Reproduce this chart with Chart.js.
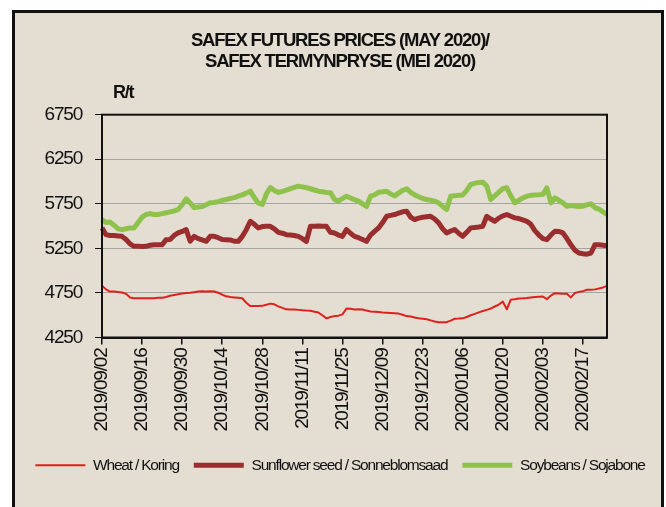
<!DOCTYPE html>
<html>
<head>
<meta charset="utf-8">
<script src="https://cdn.jsdelivr.net/npm/chart.js@4"></script>
<style>
  html, body { margin: 0; padding: 0; background: #fff; }
  #wrap { position: relative; width: 666px; height: 507px; overflow: hidden; }
  #frame { position: absolute; left: 12px; top: 10px; width: 652px; height: 530px;
           box-sizing: border-box; border: 3px solid #111; background: #e4ddd1; }
  #pc { position: absolute; left: 0; top: 0; }
</style>
</head>
<body>
<div id="wrap">
  <div id="frame"></div>
  <canvas id="pc" width="666" height="507"></canvas>
</div>
<script>
// SAFEX futures prices (May 2020 contract), R/t, daily trading days Sep 2019 - Feb 2020

const START_DATE = '2019-09-02';
const N_DAYS = 127;

const X_TICK_LABELS = [
  '2019/09/02', '2019/09/16', '2019/09/30', '2019/10/14', '2019/10/28', '2019/11/11',
  '2019/11/25', '2019/12/09', '2019/12/23', '2020/01/06', '2020/01/20', '2020/02/03', '2020/02/17'
];
const Y_TICKS = [4250, 4750, 5250, 5750, 6250, 6750];

const SERIES_NAMES = ['Wheat / Koring', 'Sunflower seed / Sonneblomsaad', 'Soybeans / Sojabone'];

const WHEAT = [
  4830, 4790, 4766, 4766, 4760, 4755, 4740, 4700, 4691, 4691,
  4691, 4690, 4691, 4691, 4695, 4695, 4705, 4718, 4728, 4735,
  4745, 4748, 4752, 4758, 4765, 4768, 4766, 4770, 4766, 4752,
  4730, 4712, 4705, 4700, 4695, 4690, 4640, 4603, 4603, 4603,
  4605, 4618, 4630, 4622, 4600, 4582, 4566, 4565, 4565, 4560,
  4555, 4552, 4550, 4540, 4530, 4500, 4465, 4480, 4490, 4495,
  4510, 4575, 4572, 4565, 4568, 4565, 4552, 4542, 4540, 4535,
  4530, 4528, 4525, 4522, 4518, 4505, 4490, 4485, 4475, 4465,
  4460, 4455, 4442, 4430, 4422, 4420, 4422, 4440, 4460, 4462,
  4465, 4480, 4500, 4515, 4532, 4547, 4560, 4575, 4598, 4620,
  4653, 4567, 4675, 4680, 4688, 4690, 4694, 4700, 4705, 4708,
  4710, 4680, 4720, 4747, 4745, 4742, 4740, 4700, 4750, 4762,
  4770, 4785, 4785, 4790, 4800, 4812, 4830
];

const SUNFLOWER = [
  5480, 5404, 5395, 5395, 5390, 5385, 5350, 5300, 5273, 5273,
  5270, 5273, 5285, 5290, 5290, 5290, 5348, 5350, 5395, 5423,
  5440, 5461, 5330, 5385, 5360, 5345, 5329, 5385, 5385, 5370,
  5350, 5348, 5345, 5330, 5329, 5385, 5460, 5554, 5520, 5480,
  5495, 5498, 5498, 5470, 5430, 5420, 5404, 5400, 5395, 5385,
  5360, 5329, 5498, 5498, 5500, 5498, 5498, 5430, 5423, 5400,
  5385, 5461, 5420, 5385, 5370, 5350, 5329, 5400, 5440, 5480,
  5540, 5610, 5620, 5630, 5645, 5660, 5667, 5600, 5573, 5590,
  5600, 5605, 5610, 5580, 5536, 5470, 5423, 5445, 5461, 5420,
  5385, 5430, 5480, 5485, 5490, 5498, 5610, 5580, 5554, 5590,
  5615, 5630, 5610, 5592, 5585, 5570, 5554, 5520, 5450, 5400,
  5360, 5348, 5400, 5442, 5440, 5423, 5360, 5290, 5230, 5198,
  5190, 5185, 5198, 5292, 5290, 5285, 5280
];

const SOYBEANS = [
  5573, 5540, 5545, 5510, 5470, 5460, 5470, 5480, 5480, 5540,
  5600, 5630, 5640, 5630, 5630, 5640, 5650, 5660, 5670, 5686,
  5740, 5806, 5760, 5708, 5715, 5720, 5740, 5761, 5765, 5775,
  5790, 5798, 5810, 5820, 5836, 5850, 5870, 5892, 5820, 5760,
  5742, 5860, 5933, 5900, 5877, 5890, 5905, 5919, 5935, 5948,
  5940, 5930, 5919, 5905, 5892, 5885, 5878, 5874, 5800, 5780,
  5810, 5836, 5815, 5798, 5780, 5750, 5720, 5836, 5850, 5880,
  5885, 5892, 5860, 5840, 5870, 5900, 5919, 5880, 5850, 5830,
  5810, 5798, 5790, 5780, 5760, 5720, 5686, 5836, 5840, 5845,
  5850, 5900, 5967, 5980, 5990, 5993, 5950, 5798, 5840, 5880,
  5920, 5930, 5840, 5761, 5790, 5815, 5836, 5845, 5850, 5852,
  5855, 5930, 5761, 5817, 5790, 5760, 5723, 5730, 5725, 5720,
  5723, 5740, 5750, 5705, 5690, 5660, 5630
];

const FONT = "'Liberation Sans', Arial, sans-serif";
const TIGHT = '-1.2px'; // no narrow face installed, so squeeze the letters a bit

// trading-day category labels (weekdays only)
function tradingDays(start, n) {
  const out = [];
  const d = new Date(start + 'T00:00:00Z');
  while (out.length < n) {
    const wd = d.getUTCDay();
    if (wd !== 0 && wd !== 6) {
      const m = String(d.getUTCMonth() + 1).padStart(2, '0');
      const day = String(d.getUTCDate()).padStart(2, '0');
      out.push(d.getUTCFullYear() + '/' + m + '/' + day);
    }
    d.setUTCDate(d.getUTCDate() + 1);
  }
  return out;
}

const labels = tradingDays(START_DATE, N_DAYS);

// condensed-looking text for everything the chart writes
const tightText = {
  id: 'tightText',
  beforeUpdate(chart) { chart.ctx.letterSpacing = TIGHT; },
  beforeDraw(chart) { chart.ctx.letterSpacing = TIGHT; }
};

// plot frame + "R/t" unit label
const framePlugin = {
  id: 'frameAndUnit',
  afterDraw(chart) {
    const { ctx, chartArea } = chart;
    ctx.save();
    ctx.strokeStyle = '#111';
    ctx.lineWidth = 2;
    ctx.strokeRect(chartArea.left, chartArea.top, chartArea.right - chartArea.left, chartArea.bottom - chartArea.top);
    ctx.fillStyle = '#111';
    ctx.font = 'bold 18px ' + FONT;
    ctx.textAlign = 'left';
    ctx.textBaseline = 'middle';
    ctx.fillText('R/t', chartArea.left + 11, chartArea.top - 22);
    ctx.restore();
  }
};

function init() {
  const ctx = document.getElementById('pc').getContext('2d');
  new Chart(ctx, {
    type: 'line',
    data: {
      labels: labels,
      datasets: [
        { label: SERIES_NAMES[0], data: WHEAT, borderColor: '#e0201c', borderWidth: 2, order: 1 },
        { label: SERIES_NAMES[1], data: SUNFLOWER, borderColor: '#9a2e2e', borderWidth: 5, order: 2 },
        { label: SERIES_NAMES[2], data: SOYBEANS, borderColor: '#8fc24c', borderWidth: 5, order: 3 }
      ]
    },
    options: {
      responsive: false,
      devicePixelRatio: 1,
      animation: false,
      layout: { padding: { left: 14, right: 0, top: 0, bottom: 24 } },
      elements: {
        point: { radius: 0 },
        line: { tension: 0, borderJoinStyle: 'round', fill: false }
      },
      plugins: {
        title: {
          display: true,
          text: ['SAFEX FUTURES PRICES (MAY 2020)/', 'SAFEX TERMYNPRYSE (MEI 2020)'],
          color: '#111',
          font: { family: FONT, size: 18.5, weight: 'bold', lineHeight: 1.1 },
          padding: { top: 31, bottom: 43 }
        },
        legend: {
          position: 'bottom',
          labels: {
            color: '#111',
            font: { family: FONT, size: 15.5 },
            usePointStyle: true,
            pointStyle: 'line',
            pointStyleWidth: 50,
            boxHeight: 16,
            padding: 15
          }
        },
        tooltip: { enabled: false }
      },
      scales: {
        x: {
          type: 'category',
          grid: { display: true, drawOnChartArea: false, drawTicks: true, tickLength: 7, tickColor: '#111', lineWidth: 1.5 },
          border: { display: true, color: '#111', width: 2 },
          ticks: {
            autoSkip: false,
            maxRotation: 90,
            minRotation: 90,
            padding: 4,
            color: '#111',
            font: { family: FONT, size: 19 },
            callback: function (v, i) {
              const l = labels[i];
              return X_TICK_LABELS.indexOf(l) >= 0 ? l : null;
            }
          },
          afterFit: s => { s.height = 105; }
        },
        y: {
          min: Y_TICKS[0],
          max: Y_TICKS[Y_TICKS.length - 1],
          afterBuildTicks: s => { s.ticks = Y_TICKS.map(v => ({ value: v })); },
          grid: { color: '#a3a3a3', lineWidth: 1, tickColor: '#111', tickLength: 7 },
          border: { display: true, color: '#111', width: 2 },
          ticks: { padding: 13, color: '#111', font: { family: FONT, size: 19 }, callback: v => String(v) },
          afterFit: s => { s.width = 88; }
        },
        yR: {
          position: 'right',
          display: true,
          grid: { display: false },
          border: { display: false },
          ticks: { display: false },
          afterFit: s => { s.width = 59; }
        }
      }
    },
    plugins: [tightText, framePlugin]
  });
}

if (document.readyState === 'loading') {
  document.addEventListener('DOMContentLoaded', init);
} else {
  init();
}
</script>
</body>
</html>
